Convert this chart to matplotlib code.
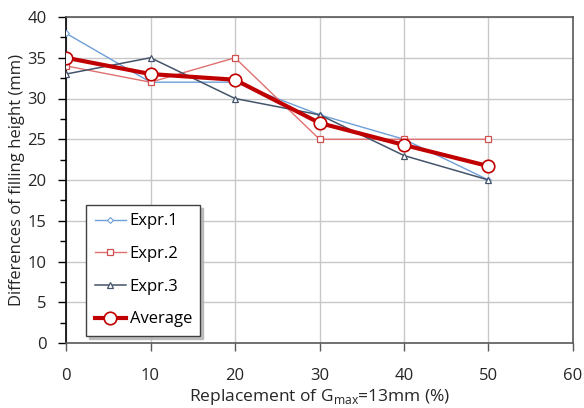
import matplotlib
matplotlib.use("Agg")
import matplotlib.pyplot as plt
from matplotlib.ticker import MultipleLocator

plt.rcParams['font.family'] = ['Open Sans', 'DejaVu Sans']
plt.rcParams['mathtext.fontset'] = 'custom'
plt.rcParams['mathtext.rm'] = 'Open Sans'

replacement = [0, 10, 20, 30, 40, 50]
expr1 = [38, 32, 32, 28, 25, 20]
expr2 = [34, 32, 35, 25, 25, 25]
expr3 = [33, 35, 30, 28, 23, 20]
average = [35, 33, 32.3, 27, 24.3, 21.7]

fig = plt.figure(figsize=(5.84, 4.08), dpi=100)
ax = fig.add_axes([66 / 584, 65 / 408, 507 / 584, 326 / 408])

ax.plot(replacement, expr1, color='#6f9fd8', lw=1.0, marker='D', ms=3,
        mfc='white', mec='#6f9fd8', mew=0.8, label='Expr.1', zorder=3)
ax.plot(replacement, expr2, color='#e07070', lw=1.0, marker='s', ms=4.5,
        mfc='white', mec='#d05050', mew=0.9, label='Expr.2', zorder=3)
ax.plot(replacement, expr3, color='#44546a', lw=1.1, marker='^', ms=4,
        mfc='white', mec='#44546a', mew=0.9, label='Expr.3', zorder=3)
ax.plot(replacement, average, color='#c00000', lw=3, marker='o', ms=9,
        mfc='white', mec='#c00000', mew=1.2, label='Average', zorder=4)

ax.set_xlim(0, 60)
ax.set_ylim(0, 40)
ax.xaxis.set_major_locator(MultipleLocator(10))
ax.yaxis.set_major_locator(MultipleLocator(5))
ax.yaxis.set_minor_locator(MultipleLocator(2.5))
ax.grid(True, which='major', color='#c8c8c8', lw=1.0)
ax.set_axisbelow(True)

for side in ['top', 'right', 'bottom']:
    ax.spines[side].set_color('#595959')
    ax.spines[side].set_linewidth(1.2)
ax.spines['left'].set_color('black')
ax.spines['left'].set_linewidth(1.2)

ax.tick_params(axis='both', which='major', direction='out', length=6,
               width=1, color='#595959', labelsize=12, labelcolor='#262626')
ax.tick_params(axis='x', which='major', pad=12)
ax.tick_params(axis='y', which='major', color='black', pad=8)
ax.tick_params(axis='y', which='minor', direction='out', length=4,
               width=1, color='black')

ax.set_xlabel(r'Replacement of G$_{\mathrm{max}}$=13mm (%)', fontsize=12.5,
              color='#262626', labelpad=2)
ax.set_ylabel('Differences of filling height (mm)', fontsize=12,
              color='#262626', labelpad=2)

leg = ax.legend(loc='lower left', bbox_to_anchor=(0.04, 0.022), fontsize=12,
                frameon=True, fancybox=False,
                shadow={'color': '#b0b0b0', 'alpha': 0.8},
                borderpad=0.5, borderaxespad=0, labelspacing=1.0,
                handlelength=1.9, handletextpad=0.2)
leg.get_frame().set_edgecolor('#404040')
leg.get_frame().set_linewidth(1.0)

fig.savefig('out.png', dpi=100)
